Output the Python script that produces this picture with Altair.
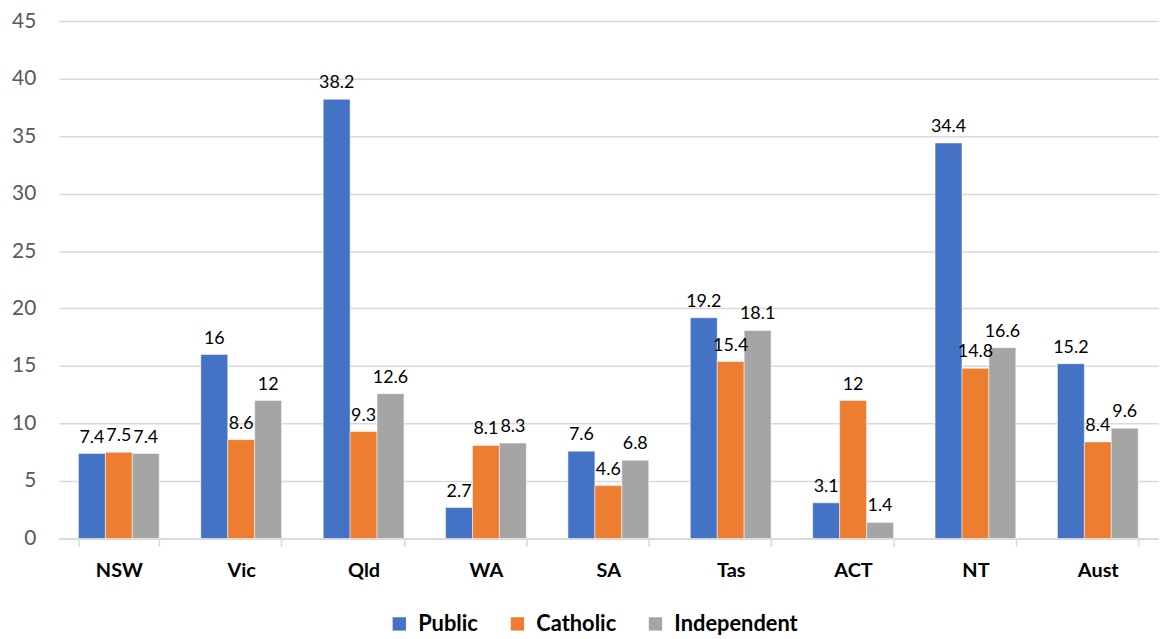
import altair as alt
import pandas as pd

states = ["NSW", "Vic", "Qld", "WA", "SA", "Tas", "ACT", "NT", "Aust"]
series = ["Public", "Catholic", "Independent"]
public = [7.4, 16, 38.2, 2.7, 7.6, 19.2, 3.1, 34.4, 15.2]
catholic = [7.5, 8.6, 9.3, 8.1, 4.6, 15.4, 12, 14.8, 8.4]
independent = [7.4, 12, 12.6, 8.3, 6.8, 18.1, 1.4, 16.6, 9.6]
colors = ["#4472C4", "#ED7D31", "#A5A5A5"]

rows = []
for s, vals in zip(series, [public, catholic, independent]):
    for st, v in zip(states, vals):
        rows.append({"state": st, "sector": s, "value": v})
df = pd.DataFrame(rows)

FONT = "Lato"

x = alt.X("state:N", sort=states, title=None,
          scale=alt.Scale(paddingInner=0.34, paddingOuter=0.17),
          axis=alt.Axis(labelAngle=0, labelFontWeight="bold", labelFontSize=20,
                        labelColor="#000000", labelFont=FONT, labelPadding=14,
                        domainColor="#D9D9D9", domainWidth=1.5, tickColor="#D9D9D9",
                        tickBand="extent", tickSize=8, tickWidth=1.5, grid=False))
xo = alt.XOffset("sector:N", sort=series, scale=alt.Scale(paddingInner=0, paddingOuter=0))
yaxis = alt.Axis(values=list(range(0, 50, 5)), domain=True, domainColor="#FFFFFF",
                 domainWidth=2.5, ticks=False,
                 labelFontSize=21, labelColor="#595959", labelFont=FONT,
                 labelPadding=22, gridColor="#D9D9D9", gridWidth=1.5)
y = alt.Y("value:Q", title=None,
          scale=alt.Scale(domain=[0, 45], nice=False), axis=yaxis)
color = alt.Color("sector:N", sort=series, title=None,
                  scale=alt.Scale(domain=series, range=colors),
                  legend=alt.Legend(orient="none", direction="horizontal",
                                    legendX=333, legendY=596,
                                    symbolType="square", symbolSize=180,
                                    labelFontSize=22, labelFontWeight="bold",
                                    labelFont=FONT, labelColor="#000000",
                                    columnPadding=28, symbolStrokeWidth=0,
                                    labelOffset=8))

base = alt.Chart(df).encode(x=x, xOffset=xo)
bars = base.mark_bar(stroke="white", strokeWidth=0.5).encode(y=y, color=color)
labels = base.mark_text(dy=-16, fontSize=18, font=FONT, color="#000000").encode(
    y=alt.Y("value:Q", title=None, scale=alt.Scale(domain=[0, 45], nice=False),
            axis=yaxis),
    text=alt.Text("value:Q"))

chart = (bars + labels).properties(
    width=1109, height=521,
    background="white",
    autosize=alt.AutoSizeParams(type="none"),
    padding={"left": 50, "top": 11, "right": 0, "bottom": 100},
).configure_view(stroke="#FFFFFF", strokeWidth=2)

chart.save("out.html", embed_options={"renderer": "svg", "actions": False})
